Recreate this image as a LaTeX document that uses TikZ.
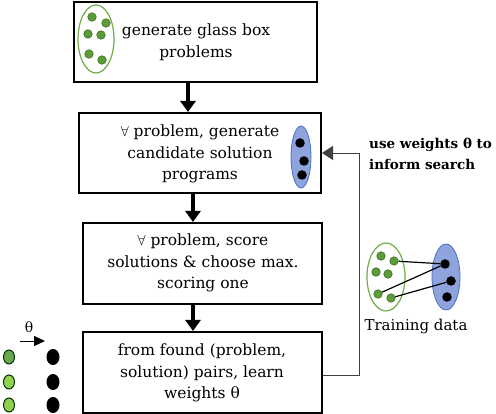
\documentclass[tikz,border=0pt]{standalone}
\usepackage{fontspec}
\setmainfont{DejaVu Serif}
\usetikzlibrary{arrows.meta}
\definecolor{gline}{HTML}{70AD47}
\definecolor{gdot}{HTML}{5B9B3A}
\definecolor{gdotd}{HTML}{3C6E22}
\definecolor{bfill}{HTML}{8FA3DC}
\definecolor{bline}{HTML}{4472C4}
\definecolor{ldark}{HTML}{6AA84F}
\definecolor{llight}{HTML}{92D050}
\tikzset{
  stepbox/.style={draw, line width=2pt, rectangle},
  flow/.style={line width=4pt, -{Triangle[length=11pt,width=15pt]}},
  gdotst/.style={circle, fill=gdot, draw=gdotd, line width=0.6pt, inner sep=0pt, minimum size=8.5pt},
  kdot/.style={circle, fill=black, inner sep=0pt, minimum size=9.5pt},
  lbl/.style={font=\fontsize{15.5}{21.5}\selectfont, align=center, inner sep=0pt}
}
\begin{document}
\begin{tikzpicture}[x=1pt,y=-1pt]
\useasboundingbox (0,0) rectangle (496,414);
% boxes
\node[stepbox, minimum width=243pt, minimum height=80pt] (b1) at (195.5,42) {};
\node[stepbox, minimum width=242pt, minimum height=80pt] (b2) at (200,153) {};
\node[stepbox, minimum width=239pt, minimum height=81pt] (b3) at (202.5,263.5) {};
\node[stepbox, minimum width=239pt, minimum height=81pt] (b4) at (202.5,372.5) {};
% texts
\node[lbl] (t1) at (196,42) {generate glass box\\problems};
\node[lbl] (t2) at (200,154) {$\forall$ problem, generate\\candidate solution\\programs};
\node[lbl] (t3) at (203,263) {$\forall$ problem, score\\solutions \& choose max.\\scoring one};
\node[lbl] (t4) at (202,373) {from found (problem,\\solution) pairs, learn\\weights θ};
% ellipse in box1
\draw[gline, line width=1.2pt] (96,39) ellipse [x radius=18, y radius=34];
\foreach \p/\n in {{(92,17)}/a,{(106,23)}/b,{(88,34)}/c,{(101,35)}/d,{(89,54)}/e,{(102,60)}/f}
  \node[gdotst] (g1\n) at \p {};
% ellipse in box2
\draw[bline, fill=bfill, line width=0.8pt] (301,157) ellipse [x radius=10, y radius=31];
\node[kdot] (k2a) at (300,143) {};
\node[kdot] (k2b) at (304,161) {};
\node[kdot] (k2c) at (302,175) {};
% flow arrows
\coordinate (xa) at (188,0);
\coordinate (xb) at (193,0);
\draw[flow] (b1.south -| xa) -- (b2.north -| xa);
\draw[flow] (b2.south -| xb) -- (b3.north -| xb);
\draw[flow] (b3.south -| xb) -- (b4.north -| xb);
% feedback
\coordinate (fb1) at (359,375);
\coordinate (fb2) at (359,153);
\draw[line width=0.8pt, black!75, -{Triangle[length=11pt,width=14pt]}] (b4.east |- fb1) -- (fb1) -- (fb2) -- (b2.east |- fb2);
\node[font=\bfseries\fontsize{13.5}{21.5}\selectfont, align=left, inner sep=0pt, anchor=west] (uw) at (369,154) {use weights θ to\\inform search};
% training data
\draw[gline, line width=1.2pt] (386,277) ellipse [x radius=19, y radius=34];
\draw[bline, fill=bfill, line width=0.8pt] (446,277) ellipse [x radius=14, y radius=33];
\foreach \p/\n in {{(381,256)}/a,{(394,261)}/b,{(376,272)}/c,{(388,274)}/d,{(378,294)}/e,{(391,298)}/f}
  \node[gdotst] (tg\n) at \p {};
\node[kdot] (tka) at (445,264) {};
\node[kdot] (tkb) at (451,281) {};
\node[kdot] (tkc) at (447,297) {};
\draw[line width=1.2pt] (tgb) -- (tka);
\draw[line width=1.2pt] (tge) -- (tka);
\draw[line width=1.2pt] (tgf) -- (tkb);
\node[font=\fontsize{15}{18}\selectfont, inner sep=0pt] (td) at (416,326) {Training data};
% left legend
\node[font=\fontsize{14}{14}\selectfont, inner sep=0pt] (th) at (29,327) {θ};
\coordinate (la) at (20,341);
\coordinate (lb) at (45,341);
\draw[line width=0.8pt, -{Triangle[length=11pt,width=10pt]}] (la) -- (lb);
\draw[fill=ldark, draw=black!80!green, line width=1pt] (9,357) ellipse [x radius=5.5, y radius=7];
\draw[fill=llight, draw=black!80!green, line width=1pt] (9,382) ellipse [x radius=5.5, y radius=7];
\draw[fill=llight, draw=black!80!green, line width=1pt] (9,405) ellipse [x radius=5.5, y radius=7];
\fill (53,357) ellipse [x radius=6.5, y radius=8];
\fill (53,382) ellipse [x radius=6.5, y radius=8];
\fill (53,405) ellipse [x radius=6.5, y radius=8];
\end{tikzpicture}
\end{document}
